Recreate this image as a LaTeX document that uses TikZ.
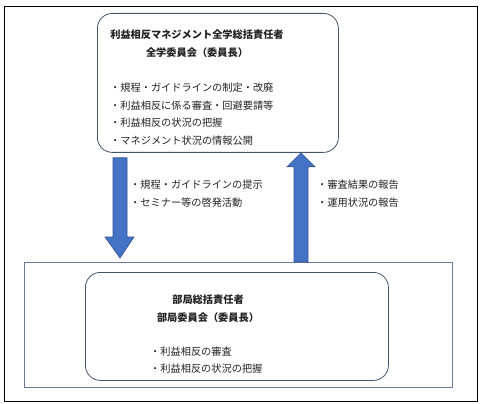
\documentclass[tikz,border=0pt]{standalone}
\usepackage{fontspec}
\newfontfamily\jp{Noto Sans CJK JP}
\usetikzlibrary{calc}
\definecolor{arrowfill}{HTML}{4472C4}
\definecolor{arrowedge}{HTML}{2F528F}
\definecolor{boxedge}{HTML}{44546A}
\definecolor{frameedge}{HTML}{6A7C9C}
\definecolor{inktext}{HTML}{222222}

\begin{document}
\begin{tikzpicture}[x=1pt, y=-1pt, font=\jp\fontsize{10.2}{17.5}\selectfont, text=inktext,
    roundbox/.style={draw=boxedge, line width=0.8pt, rounded corners=15pt, anchor=north west, inner sep=0pt},
    deptbox/.style={draw=frameedge, line width=0.9pt, anchor=north west, inner sep=0pt},
    titletext/.style={align=center, inner sep=0pt, font=\jp\bfseries\fontsize{10.2}{18}\selectfont},
    itemtext/.style={anchor=west, inner sep=0pt},
    bigarrow/.style={fill=arrowfill, draw=arrowedge, line width=0.6pt, line join=miter}]

    \useasboundingbox (0,0) rectangle (480,404);

    % ==========================================
    % 1. Cornice esterna e riquadro del dipartimento
    % ==========================================
    \draw[black, line width=1pt] (4,7) rectangle (477,401);
    \node[deptbox, minimum width=428pt, minimum height=125pt] (deptframe) at (24,262) {};

    % ==========================================
    % 2. Riquadri arrotondati
    % ==========================================
    \node[roundbox, minimum width=241pt, minimum height=139pt] (topbox) at (97,13) {};
    \node[roundbox, minimum width=303pt, minimum height=108pt] (deptbox) at (85,272) {};

    % ==========================================
    % 3. Testi del comitato centrale
    % ==========================================
    \node[titletext] (toptitle) at (197,44) {利益相反マネジメント全学総括責任者\\全学委員会（委員長）};
    \foreach \txt [count=\i] in {
        ・規程・ガイドラインの制定・改廃,
        ・利益相反に係る審査・回避要請等,
        ・利益相反の状況の把握,
        ・マネジメント状況の情報公開
    }{
        \node[itemtext] (topitem\i) at (110,{70.5+17.5*\i}) {\txt};
    }

    % ==========================================
    % 4. Testi del comitato di dipartimento
    % ==========================================
    \node[titletext] (depttitle) at (208,308.5) {部局総括責任者\\部局委員会（委員長）};
    \node[itemtext] (deptitem1) at (150,352) {・利益相反の審査};
    \node[itemtext] (deptitem2) at (150,369) {・利益相反の状況の把握};

    % ==========================================
    % 5. Frecce a blocco e note
    % ==========================================
    \coordinate (downx) at (120,0);
    \coordinate (upx) at (301,0);
    \coordinate (downtop) at ([yshift=-5pt]topbox.south -| downx);
    \coordinate (downtip) at ([yshift=4pt]deptframe.north -| downx);
    \coordinate (uptip) at (topbox.south -| upx);
    \coordinate (upfoot) at (deptframe.north -| upx);

    \draw[bigarrow] ($(downtop)+(-7,0)$) -- ($(downtip)+(-7,-21)$) -- ($(downtip)+(-15,-21)$)
        -- (downtip) -- ($(downtip)+(14,-21)$) -- ($(downtip)+(7,-21)$) -- ($(downtop)+(7,0)$) -- cycle;
    \draw[bigarrow] ($(upfoot)+(-7,0)$) -- ($(uptip)+(-7,14)$) -- ($(uptip)+(-14,14)$)
        -- (uptip) -- ($(uptip)+(14,14)$) -- ($(uptip)+(7,14)$) -- ($(upfoot)+(7,0)$) -- cycle;

    \node[itemtext] (downnote1) at (130,185) {・規程・ガイドラインの提示};
    \node[itemtext] (downnote2) at (130,203) {・セミナー等の啓発活動};
    \node[itemtext] (upnote1) at (317,185) {・審査結果の報告};
    \node[itemtext] (upnote2) at (317,203) {・運用状況の報告};

\end{tikzpicture}
\end{document}
